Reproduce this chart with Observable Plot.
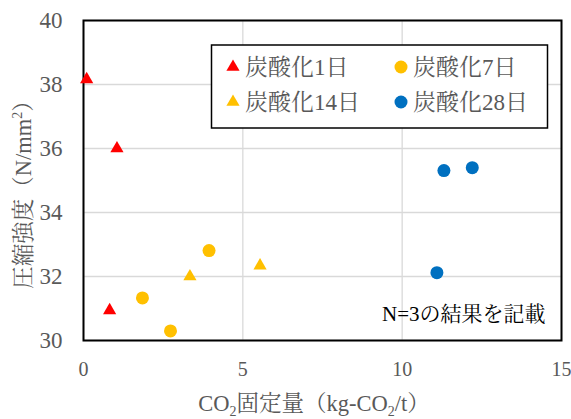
<!DOCTYPE html>
<html><head><meta charset="utf-8">
<script src="https://cdn.jsdelivr.net/npm/d3@7"></script>
<script src="https://cdn.jsdelivr.net/npm/@observablehq/plot@0.6"></script>
<style>
body{margin:0;background:#fff;}
#chart{position:relative;width:571px;height:419px;}
</style></head>
<body><div id="chart"></div>
<script>
const series = ["炭酸化1日", "炭酸化7日", "炭酸化14日", "炭酸化28日"];
const colors = ["#FF0000", "#FFC000", "#FFC000", "#0070C0"];
const symbols = ["triangle", "circle", "triangle", "circle"];
const x1 = [0.1, 1.05, 0.82], y1 = [38.16, 36.0, 30.94];
const x7 = [1.85, 2.73, 3.94], y7 = [31.33, 30.3, 32.81];
const x14 = [3.34, 5.54], y14 = [32.0, 32.34];
const x28 = [11.31, 12.2, 11.09], y28 = [35.31, 35.4, 32.12];
const xTicks = [0, 5, 10, 15];
const yTicks = [30, 32, 34, 36, 38, 40];
const note = "N=3の結果を記載";

const rows = [];
[[x1,y1],[x7,y7],[x14,y14],[x28,y28]].forEach(([xs,ys],i)=>xs.forEach((x,j)=>rows.push({series:series[i],x,y:ys[j]})));
const tri = rows.filter(d=>symbols[series.indexOf(d.series)]==="triangle");
const cir = rows.filter(d=>symbols[series.indexOf(d.series)]==="circle");

const font = '"Liberation Serif", "Noto Serif CJK JP", "Noto Sans CJK JP", serif';
const grey = "#595959";
const plot = Plot.plot({
  width: 571, height: 419,
  marginLeft: 83, marginRight: 10, marginTop: 20, marginBottom: 79,
  style: {fontSize: "22px", fontFamily: font, color: grey, background: "#fff"},
  x: {domain: [0, 15], ticks: xTicks, label: null},
  y: {domain: [30, 40], ticks: yTicks, label: null},
  color: {domain: series, range: colors},
  marks: [
    Plot.gridX(xTicks, {stroke: "#d9d9d9", strokeOpacity: 1, strokeWidth: 1.3}),
    Plot.gridY(yTicks, {stroke: "#d9d9d9", strokeOpacity: 1, strokeWidth: 1.3}),
    Plot.axisX(xTicks, {tickSize: 0, tickPadding: 21, fontSize: 20, fill: grey, fontFamily: font}),
    Plot.axisY(yTicks, {tickSize: 0, tickPadding: 21, fontSize: 23, fill: grey, fontFamily: font}),
    Plot.frame({stroke: "#000", strokeWidth: 2}),
    Plot.text([note], {frameAnchor: "bottom-right", lineAnchor: "middle", dx: -16, dy: -26, fontSize: 21, fill: "#000", fontFamily: font}),
    Plot.dot(tri, {x: "x", y: "y", fill: "series", symbol: "triangle", r: 4.9}),
    Plot.dot(cir, {x: "x", y: "y", fill: "series", symbol: "circle", r: 6.5})
  ]
});
document.getElementById("chart").appendChild(plot);

const svg = d3.select(plot);
// axis titles
const xt = svg.append("text").attr("x", 314).attr("y", 411).attr("text-anchor", "middle")
  .attr("font-size", 22.5).attr("fill", grey);
xt.append("tspan").text("CO");
xt.append("tspan").attr("font-size", 14).attr("dy", 5).text("2");
xt.append("tspan").attr("dy", -5).text("固定量（kg-CO");
xt.append("tspan").attr("font-size", 14).attr("dy", 5).text("2");
xt.append("tspan").attr("dy", -5).text("/t）");

const yt = svg.append("text").attr("transform", "translate(31,189) rotate(-90)").attr("text-anchor", "middle")
  .attr("font-size", 22.5).attr("fill", grey);
yt.append("tspan").text("圧縮強度（N/mm");
yt.append("tspan").attr("font-size", 14).attr("dy", -9).text("2");
yt.append("tspan").attr("dy", 9).text("）");

// legend
const lg = svg.append("g");
lg.append("rect").attr("x", 211.5).attr("y", 45).attr("width", 336).attr("height", 83)
  .attr("fill", "#fff").attr("stroke", "#000").attr("stroke-width", 1.5);
const pos = [[233, 67], [401, 67], [233, 102], [401, 102]];
series.forEach((s, i) => {
  const [px, py] = pos[i];
  const sym = symbols[i] === "triangle" ? d3.symbolTriangle : d3.symbolCircle;
  const size = symbols[i] === "triangle" ? Math.PI * 4.9 * 4.9 : Math.PI * 6.5 * 6.5;
  lg.append("path").attr("d", d3.symbol(sym, size)()).attr("transform", `translate(${px},${py})`).attr("fill", colors[i]);
  lg.append("text").attr("x", px + 12).attr("y", py).attr("dy", "0.36em").attr("text-anchor", "start")
    .attr("font-size", 23).attr("fill", grey).text(s);
});
svg.selectAll("text").style("font-family", font);
</script></body></html>
